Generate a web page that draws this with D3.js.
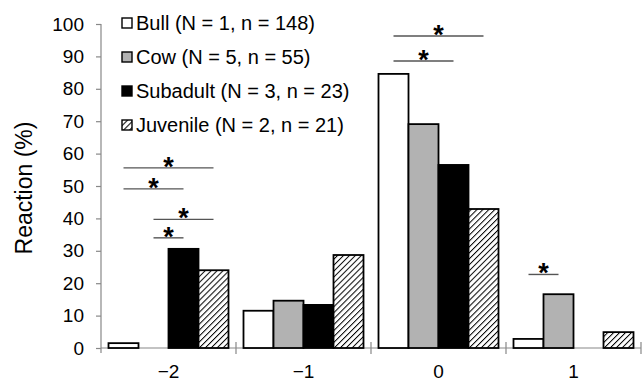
<!DOCTYPE html>
<html>
<head>
<meta charset="utf-8">
<script src="https://cdn.jsdelivr.net/npm/d3@7"></script>
<style>
  body { margin: 0; background: #fff; }
  text { font-family: Arial, "Liberation Sans", sans-serif; }
</style>
</head>
<body>
<div id="chart"></div>
<script>
// categories and series
var categories = ["−2", "−1", "0", "1"];
var series = ["Bull", "Cow", "Subadult", "Juvenile"];
var legendLabels = ["Bull (N = 1, n = 148)", "Cow (N = 5, n = 55)", "Subadult (N = 3, n = 23)", "Juvenile (N = 2, n = 21)"];

// reaction % per category, one array per series
var bull = [1.5, 11.5, 84.6, 2.8];
var cow = [0, 14.6, 69.1, 16.6];
var subadult = [30.6, 13.3, 56.5, 0];
var juvenile = [24.0, 28.7, 42.9, 4.9];

var yTicks = [0, 10, 20, 30, 40, 50, 60, 70, 80, 90, 100];

// significance brackets: category, level, from series, to series
var sigCat = ["−2", "−2", "−2", "−2", "0", "0", "1"];
var sigLevel = [55.6, 49.1, 39.7, 34.0, 96.3, 88.6, 22.7];
var sigFrom = ["Bull", "Bull", "Cow", "Cow", "Bull", "Bull", "Bull"];
var sigTo = ["Juvenile", "Subadult", "Juvenile", "Subadult", "Juvenile", "Subadult", "Cow"];

var width = 644, height = 382;
var plotLeft = 101, plotRight = 641, plotTop = 24, plotBottom = 348;

var svg = d3.select("#chart").append("svg")
  .attr("width", width)
  .attr("height", height);

var defs = svg.append("defs");
var pat = defs.append("pattern")
  .attr("id", "hatch")
  .attr("patternUnits", "userSpaceOnUse")
  .attr("width", 4.2)
  .attr("height", 4.2)
  .attr("patternTransform", "rotate(45)");
pat.append("rect").attr("width", 4.2).attr("height", 4.2).attr("fill", "#fff");
pat.append("line")
  .attr("x1", 0).attr("y1", 0).attr("x2", 0).attr("y2", 4.2)
  .attr("stroke", "#000").attr("stroke-width", 2);

var fills = { Bull: "#fff", Cow: "#b2b2b2", Subadult: "#000", Juvenile: "url(#hatch)" };

var x0 = d3.scaleBand().domain(categories).range([plotLeft, plotRight]).padding(0);
var x1 = d3.scaleBand().domain(series).range([0, x0.bandwidth()]).paddingInner(0).paddingOuter(0.25);
var y = d3.scaleLinear().domain([0, 100]).range([plotBottom, plotTop]);

var values = { Bull: bull, Cow: cow, Subadult: subadult, Juvenile: juvenile };

// y axis
var yAxis = svg.append("g")
  .attr("transform", "translate(" + plotLeft + ",0)")
  .call(d3.axisLeft(y).tickValues(yTicks).tickSize(5).tickPadding(12));
yAxis.select(".domain").attr("d", "M0," + plotTop + "V" + (plotBottom + 5));
yAxis.selectAll("line, path").attr("stroke", "#888").attr("stroke-width", 1.2);
yAxis.selectAll("text").style("font-size", "19px").attr("fill", "#000");

// x axis: base line, boundary ticks and category labels
svg.append("line")
  .attr("x1", plotLeft).attr("x2", plotRight)
  .attr("y1", plotBottom).attr("y2", plotBottom)
  .attr("stroke", "#888").attr("stroke-width", 1.2);

svg.selectAll(".xtick")
  .data(categories)
  .enter().append("line")
  .attr("class", "xtick")
  .attr("x1", function(d) { return x0(d) + x0.bandwidth(); })
  .attr("x2", function(d) { return x0(d) + x0.bandwidth(); })
  .attr("y1", plotBottom - 6)
  .attr("y2", plotBottom + 6)
  .attr("stroke", "#888").attr("stroke-width", 1.2);

svg.selectAll(".xlabel")
  .data(categories)
  .enter().append("text")
  .attr("class", "xlabel")
  .attr("x", function(d) { return x0(d) + x0.bandwidth() / 2; })
  .attr("y", 378)
  .attr("text-anchor", "middle")
  .style("font-size", "19px")
  .text(function(d) { return d; });

// bars
var groups = svg.selectAll(".group")
  .data(categories)
  .enter().append("g")
  .attr("class", "group")
  .attr("transform", function(d) { return "translate(" + x0(d) + ",0)"; });

groups.selectAll("rect")
  .data(function(c, i) {
    return series.map(function(s) { return { s: s, v: values[s][i] }; })
      .filter(function(d) { return d.v > 0; });
  })
  .enter().append("rect")
  .attr("x", function(d) { return x1(d.s); })
  .attr("y", function(d) { return y(d.v); })
  .attr("width", x1.bandwidth())
  .attr("height", function(d) { return y(0) - y(d.v); })
  .attr("fill", function(d) { return fills[d.s]; })
  .attr("stroke", "#000")
  .attr("stroke-width", 1.8);

// significance lines and stars
var sig = sigCat.map(function(c, i) {
  return {
    x1: x0(c) + x1(sigFrom[i]) + x1.bandwidth() / 2,
    x2: x0(c) + x1(sigTo[i]) + x1.bandwidth() / 2,
    y: y(sigLevel[i])
  };
});

svg.selectAll(".sigline")
  .data(sig)
  .enter().append("line")
  .attr("class", "sigline")
  .attr("x1", function(d) { return d.x1; })
  .attr("x2", function(d) { return d.x2; })
  .attr("y1", function(d) { return d.y; })
  .attr("y2", function(d) { return d.y; })
  .attr("stroke", "#555")
  .attr("stroke-width", 1.4);

svg.selectAll(".star")
  .data(sig)
  .enter().append("text")
  .attr("class", "star")
  .attr("x", function(d) { return (d.x1 + d.x2) / 2; })
  .attr("y", function(d) { return d.y + 8; })
  .attr("text-anchor", "middle")
  .style("font-size", "27px")
  .style("font-weight", "bold")
  .text("*");

// legend
var legend = svg.selectAll(".legend")
  .data(series)
  .enter().append("g")
  .attr("class", "legend")
  .attr("transform", function(d, i) { return "translate(122," + (23 + i * 34) + ")"; });

legend.append("rect")
  .attr("x", 0).attr("y", -5)
  .attr("width", 10).attr("height", 10)
  .attr("fill", function(d) { return fills[d]; })
  .attr("stroke", "#000")
  .attr("stroke-width", 1.4);

legend.append("text")
  .attr("x", 14)
  .attr("y", 7)
  .style("font-size", "20px")
  .text(function(d, i) { return legendLabels[i]; });

// y label
svg.append("text")
  .attr("transform", "translate(32,188) rotate(-90)")
  .attr("text-anchor", "middle")
  .style("font-size", "23px")
  .text("Reaction (%)");
</script>
</body>
</html>
